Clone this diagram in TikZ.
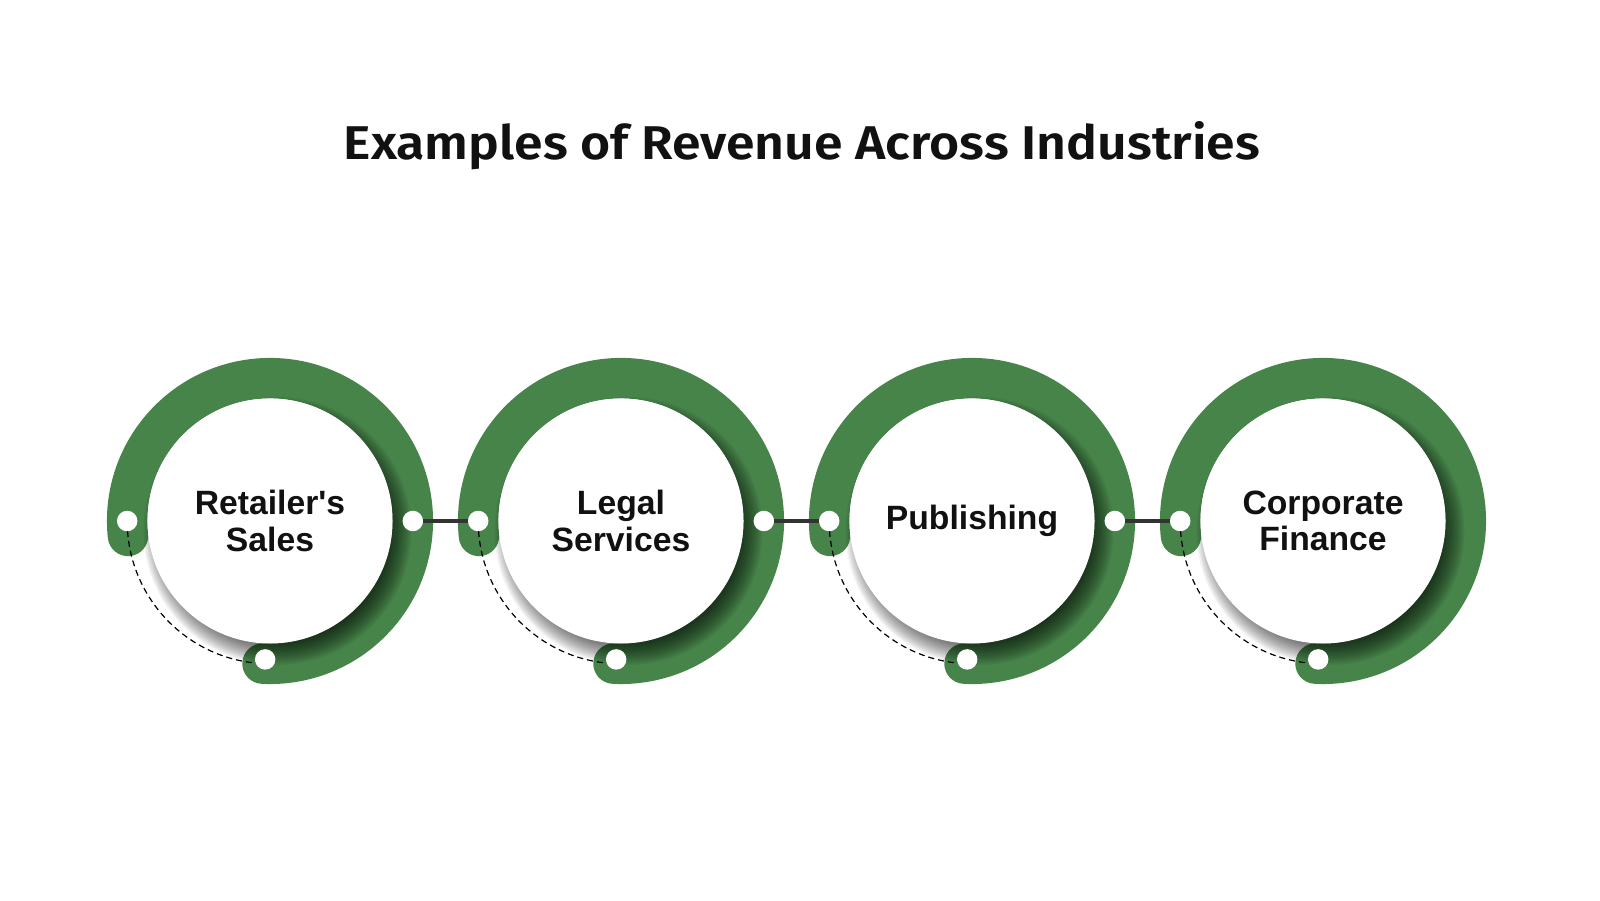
\documentclass[tikz,border=0pt]{standalone}
\usepackage{fontspec}
\setmainfont{Liberation Sans}
\newfontfamily\lblfont{Liberation Sans}[Ligatures=TeXOff]
\newfontfamily\titlefont{Fira Sans}[BoldFont={Fira Sans SemiBold}]
\usetikzlibrary{calc}
\definecolor{ringgreen}{RGB}{71,132,74}
\definecolor{conngray}{RGB}{51,51,51}
\definecolor{txt}{RGB}{17,17,17}
\begin{document}
\begin{tikzpicture}[x=1pt,y=1pt,
  ring/.style={draw=ringgreen, line width=40.5pt, line cap=round},
  disc/.style={circle, fill=white, minimum size=245pt, inner sep=0pt, align=center,
    font=\lblfont\bfseries\fontsize{33.7}{36.7}\selectfont, text=txt},
  dot/.style={circle, fill=white, minimum size=20.5pt, inner sep=0pt},
  link/.style={draw=conngray, line width=4pt},
  guide/.style={draw=black, line width=1.2pt, dash pattern=on 6pt off 4pt},
  shade/.style={fill=black, opacity=0.05}]
\fill[white] (0,0) rectangle (1600,900);
\useasboundingbox (0,0) rectangle (1600,900);
\node[text=txt, anchor=base, inner sep=0pt] (title) at (802,740.7)
  {\resizebox{916pt}{38pt}{\titlefont\bfseries Examples of Revenue Across Industries}};
\foreach \i/\t/\hasright in {1/{Retailer's\\Sales}/1, 2/{Legal\\Services}/1, 3/{Publishing}/1, 4/{Corporate\\Finance}/0}{
  \coordinate (o\i) at ({270+351*(\i-1)},379);
  \coordinate (lp\i) at ($(o\i)+(180:142.8)$);
  \coordinate (rp\i) at ($(o\i)+(0:142.8)$);
  \coordinate (bp\i) at ($(o\i)+(-92:138.5)$);
  \draw[ring] ($(o\i)+(186:142.8)$) arc[start angle=186, end angle=-93, radius=142.8];
  \draw[guide] (lp\i) arc[start angle=180, end angle=268, radius=142.8];
  \foreach \k in {0,...,16}{
    \fill[shade] ($(o\i)+(7.5,-10)$) circle[radius={110+1.5*\k}];
  }
  \node[disc] (c\i) at (o\i) {\t};
  \node[dot] (l\i) at (lp\i) {};
  \ifnum\hasright=1 \node[dot] (r\i) at (rp\i) {};\fi
  \node[dot] (b\i) at (bp\i) {};
}
\draw[link] (r1) -- (l2);
\draw[link] (r2) -- (l3);
\draw[link] (r3) -- (l4);
\end{tikzpicture}
\end{document}
